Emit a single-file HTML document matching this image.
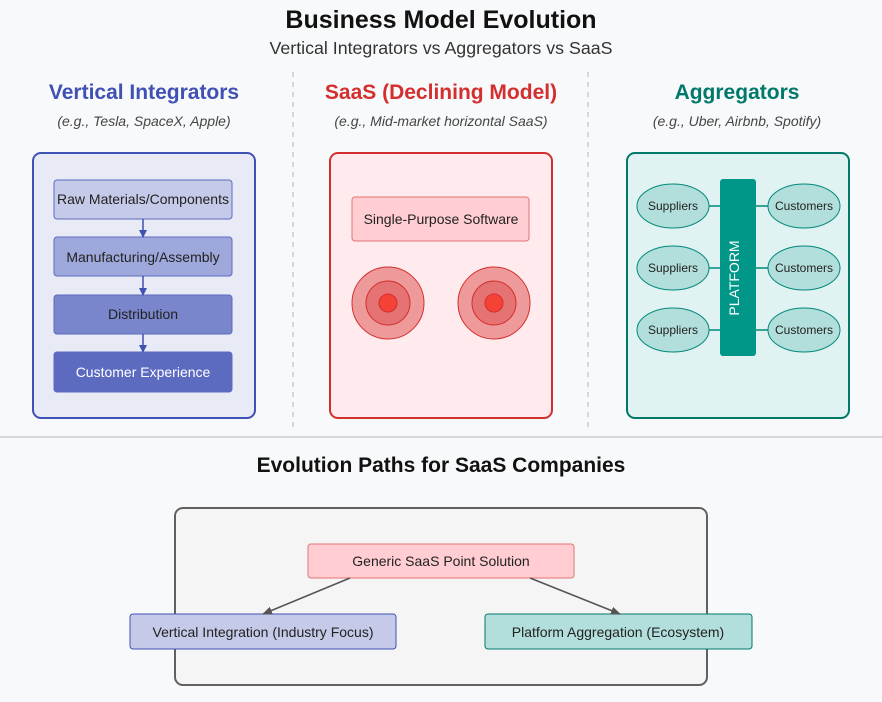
<!DOCTYPE html>
<html><head><meta charset="utf-8"><style>html,body{margin:0;padding:0;background:#f8f9fa}svg{display:block}text{font-family:"Liberation Sans",Arial,sans-serif}</style></head><body>
<svg width="882" height="702" viewBox="0 0 882 702" xmlns="http://www.w3.org/2000/svg">
<defs>
<marker id="a" markerWidth="8" markerHeight="8" refX="7" refY="4" orient="auto" markerUnits="userSpaceOnUse"><path d="M0,0 L8,4 L0,8 z" fill="#3f51b5"/></marker>
<marker id="g" markerWidth="10" markerHeight="8" refX="9" refY="4" orient="auto" markerUnits="userSpaceOnUse"><path d="M0,0 L10,4 L0,8 z" fill="#555"/></marker>
</defs>
<rect width="882" height="702" fill="#f8f9fa"/>
<text x="441" y="28" text-anchor="middle" font-size="25" font-weight="bold" fill="#111">Business Model Evolution</text>
<text x="441" y="54" text-anchor="middle" font-size="17.8" fill="#333">Vertical Integrators vs Aggregators vs SaaS</text>
<line x1="293" y1="72" x2="293" y2="432" stroke="#ccc" stroke-width="1.5" stroke-dasharray="5,5"/>
<line x1="588" y1="72" x2="588" y2="432" stroke="#ccc" stroke-width="1.5" stroke-dasharray="5,5"/>
<line x1="0" y1="437" x2="882" y2="437" stroke="#ccc" stroke-width="1.5"/>

<text x="144" y="99" text-anchor="middle" font-size="21" font-weight="bold" fill="#3f51b5">Vertical Integrators</text>
<text x="144" y="126" text-anchor="middle" font-size="14" font-style="italic" fill="#444">(e.g., Tesla, SpaceX, Apple)</text>
<text x="441" y="99" text-anchor="middle" font-size="21" font-weight="bold" fill="#d32f2f">SaaS (Declining Model)</text>
<text x="441" y="126" text-anchor="middle" font-size="14" font-style="italic" fill="#444">(e.g., Mid-market horizontal SaaS)</text>
<text x="737" y="99" text-anchor="middle" font-size="21" font-weight="bold" fill="#00796b">Aggregators</text>
<text x="737" y="126" text-anchor="middle" font-size="14" font-style="italic" fill="#444">(e.g., Uber, Airbnb, Spotify)</text>

<rect x="33" y="153" width="222" height="265" rx="8" fill="#e8eaf6" stroke="#3f51b5" stroke-width="2"/>
<rect x="54" y="180" width="178" height="39" rx="3" fill="#c5cae9" stroke="#5c6bc0"/>
<rect x="54" y="237" width="178" height="39" rx="3" fill="#9fa8da" stroke="#5c6bc0"/>
<rect x="54" y="295" width="178" height="39" rx="3" fill="#7986cb" stroke="#5c6bc0"/>
<rect x="54" y="352" width="178" height="40" rx="3" fill="#5c6bc0" stroke="#5c6bc0"/>
<text x="143" y="204" text-anchor="middle" font-size="14" fill="#222">Raw Materials/Components</text>
<text x="143" y="262" text-anchor="middle" font-size="14" fill="#222">Manufacturing/Assembly</text>
<text x="143" y="319" text-anchor="middle" font-size="14" fill="#222">Distribution</text>
<text x="143" y="377" text-anchor="middle" font-size="14" fill="#fff">Customer Experience</text>
<line x1="143" y1="219" x2="143" y2="237" stroke="#3f51b5" stroke-width="1.5" marker-end="url(#a)"/>
<line x1="143" y1="276" x2="143" y2="295" stroke="#3f51b5" stroke-width="1.5" marker-end="url(#a)"/>
<line x1="143" y1="334" x2="143" y2="352" stroke="#3f51b5" stroke-width="1.5" marker-end="url(#a)"/>

<rect x="330" y="153" width="222" height="265" rx="8" fill="#ffebee" stroke="#d32f2f" stroke-width="2"/>
<rect x="352" y="197" width="177" height="44" rx="3" fill="#ffcdd2" stroke="#e57373"/>
<text x="441" y="224" text-anchor="middle" font-size="14" fill="#222">Single-Purpose Software</text>
<g stroke="#d32f2f" stroke-width="1">
<circle cx="388" cy="303" r="36" fill="#ef9a9a"/><circle cx="388" cy="303" r="22" fill="#e57373"/><circle cx="388" cy="303" r="9" fill="#f44336"/>
<circle cx="494" cy="303" r="36" fill="#ef9a9a"/><circle cx="494" cy="303" r="22" fill="#e57373"/><circle cx="494" cy="303" r="9" fill="#f44336"/>
</g>

<rect x="627" y="153" width="222" height="265" rx="8" fill="#e0f2f1" stroke="#00796b" stroke-width="2"/>
<g stroke="#00897b" stroke-width="1.5">
<line x1="709" y1="206" x2="720" y2="206"/><line x1="709" y1="268" x2="720" y2="268"/><line x1="709" y1="330" x2="720" y2="330"/>
<line x1="756" y1="206" x2="769" y2="206"/><line x1="756" y1="268" x2="769" y2="268"/><line x1="756" y1="330" x2="769" y2="330"/>
</g>
<rect x="720" y="179" width="36" height="177" rx="3" fill="#009688"/>
<text transform="translate(739,278) rotate(-90)" text-anchor="middle" font-size="14" fill="#fff">PLATFORM</text>
<g fill="#b2dfdb" stroke="#00897b" stroke-width="1">
<ellipse cx="673" cy="206" rx="36" ry="22"/><ellipse cx="673" cy="268" rx="36" ry="22"/><ellipse cx="673" cy="330" rx="36" ry="22"/>
<ellipse cx="804" cy="206" rx="36" ry="22"/><ellipse cx="804" cy="268" rx="36" ry="22"/><ellipse cx="804" cy="330" rx="36" ry="22"/>
</g>
<g font-size="12" fill="#222" text-anchor="middle">
<text x="673" y="210">Suppliers</text><text x="673" y="272">Suppliers</text><text x="673" y="334">Suppliers</text>
<text x="804" y="210">Customers</text><text x="804" y="272">Customers</text><text x="804" y="334">Customers</text>
</g>

<text x="441" y="472" text-anchor="middle" font-size="21" font-weight="bold" fill="#111">Evolution Paths for SaaS Companies</text>
<rect x="175" y="508" width="532" height="177" rx="8" fill="#f5f5f5" stroke="#616161" stroke-width="2"/>
<rect x="308" y="544" width="266" height="34" rx="3" fill="#ffcdd2" stroke="#e57373"/>
<text x="441" y="566" text-anchor="middle" font-size="14" fill="#222">Generic SaaS Point Solution</text>
<rect x="130" y="614" width="266" height="35" rx="3" fill="#c5cae9" stroke="#3f51b5"/>
<text x="263" y="637" text-anchor="middle" font-size="14" fill="#222">Vertical Integration (Industry Focus)</text>
<rect x="485" y="614" width="267" height="35" rx="3" fill="#b2dfdb" stroke="#00796b"/>
<text x="618" y="637" text-anchor="middle" font-size="14" fill="#222">Platform Aggregation (Ecosystem)</text>
<line x1="350" y1="578" x2="263" y2="614" stroke="#555" stroke-width="1.5" marker-end="url(#g)"/>
<line x1="530" y1="578" x2="620" y2="614" stroke="#555" stroke-width="1.5" marker-end="url(#g)"/>
</svg>
</body></html>
